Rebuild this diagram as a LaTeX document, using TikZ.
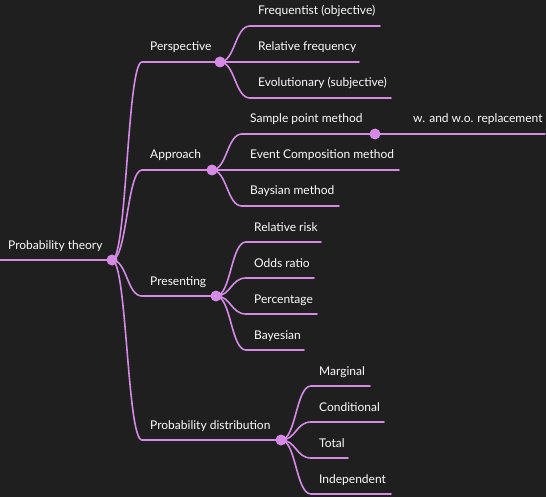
\documentclass[tikz,border=0pt]{standalone}
\usepackage{fontspec}
\setmainfont{Lato}
\usetikzlibrary{calc}
\definecolor{bgcol}{RGB}{31,31,31}
\definecolor{branch}{RGB}{213,139,230}
\definecolor{txt}{RGB}{252,252,252}
\begin{document}
\begin{tikzpicture}[x=1pt,y=-1pt,
  lnk/.style={draw=branch,line width=1.6pt,line cap=round},
  curve/.style={to path={.. controls ($(\tikztostart)!0.5!(\tikztostart -| \tikztotarget)$) and ($(\tikztotarget)!0.5!(\tikztotarget -| \tikztostart)$) .. (\tikztotarget)}},
  dot/.style={circle,fill=branch,inner sep=0pt,minimum size=11pt},
  lbl/.style={anchor=base west,text=txt,font=\fontsize{12}{14}\selectfont,inner sep=0pt}]
\fill[bgcol] (0,0) rectangle (546,497);
\useasboundingbox (0,0) rectangle (546,497);
% ---------- coordinates ----------
\coordinate (r0) at (0,260);
\coordinate (r1) at (112,260);
% level 1
\coordinate (p0) at (142,62);  \coordinate (p1) at (220,62);
\coordinate (a0) at (142,170); \coordinate (a1) at (212,170);
\coordinate (s0) at (142,296); \coordinate (s1) at (216,296);
\coordinate (d0) at (142,440); \coordinate (d1) at (281,440);
% perspective children
\coordinate (pf0) at (250,26);  \coordinate (pf1) at (380,26);
\coordinate (pr0) at (250,62);  \coordinate (pr1) at (359,62);
\coordinate (pe0) at (250,98);  \coordinate (pe1) at (391,98);
% approach children
\coordinate (as0) at (242,134); \coordinate (as1) at (375,134);
\coordinate (ae0) at (242,170); \coordinate (ae1) at (399,170);
\coordinate (ab0) at (242,206); \coordinate (ab1) at (339,206);
\coordinate (aw0) at (405,134); \coordinate (aw1) at (545,134);
% presenting children
\coordinate (sr0) at (246,242); \coordinate (sr1) at (321,242);
\coordinate (so0) at (246,278); \coordinate (so1) at (314,278);
\coordinate (sp0) at (246,314); \coordinate (sp1) at (317,314);
\coordinate (sb0) at (246,350); \coordinate (sb1) at (304,350);
% distribution children
\coordinate (dm0) at (311,386); \coordinate (dm1) at (370,386);
\coordinate (dc0) at (311,422); \coordinate (dc1) at (384,422);
\coordinate (dt0) at (311,458); \coordinate (dt1) at (348,458);
\coordinate (di0) at (311,494); \coordinate (di1) at (391,494);
% ---------- underlines ----------
\foreach \n in {r,p,a,s,d,pf,pr,pe,as,ae,ab,aw,sr,so,sp,sb,dm,dc,dt,di}
  \draw[lnk] (\n0) -- (\n1);
% ---------- links ----------
\foreach \c in {p,a,s,d} \draw[lnk] (r1) to[curve] (\c0);
\foreach \c in {pf,pr,pe} \draw[lnk] (p1) to[curve] (\c0);
\foreach \c in {as,ae,ab} \draw[lnk] (a1) to[curve] (\c0);
\foreach \c in {sr,so,sp,sb} \draw[lnk] (s1) to[curve] (\c0);
\foreach \c in {dm,dc,dt,di} \draw[lnk] (d1) to[curve] (\c0);
\draw[lnk] (as1) -- (aw0);
% ---------- dots ----------
\foreach \n in {r1,p1,a1,s1,d1,as1} \node[dot] (dot\n) at (\n) {};
% ---------- labels ----------
\node[lbl] (tr) at (8,249) {Probability theory};
\node[lbl] (tp) at (150,51) {Perspective};
\node[lbl] (ta) at (150,159) {Approach};
\node[lbl] (ts) at (150,285) {Presenting};
\node[lbl] (td) at (150,429) {Probability distribution};
\node[lbl] (tpf) at (258,15) {Frequentist (objective)};
\node[lbl] (tpr) at (258,51) {Relative frequency};
\node[lbl] (tpe) at (258,87) {Evolutionary (subjective)};
\node[lbl] (tas) at (250,123) {Sample point method};
\node[lbl] (tae) at (250,159) {Event Composition method};
\node[lbl] (tab) at (250,195) {Baysian method};
\node[lbl] (taw) at (413,123) {w. and w.o. replacement};
\node[lbl] (tsr) at (254,231) {Relative risk};
\node[lbl] (tso) at (254,267) {Odds ratio};
\node[lbl] (tsp) at (254,303) {Percentage};
\node[lbl] (tsb) at (254,339) {Bayesian};
\node[lbl] (tdm) at (319,375) {Marginal};
\node[lbl] (tdc) at (319,411) {Conditional};
\node[lbl] (tdt) at (319,447) {Total};
\node[lbl] (tdi) at (319,483) {Independent};
\end{tikzpicture}
\end{document}
